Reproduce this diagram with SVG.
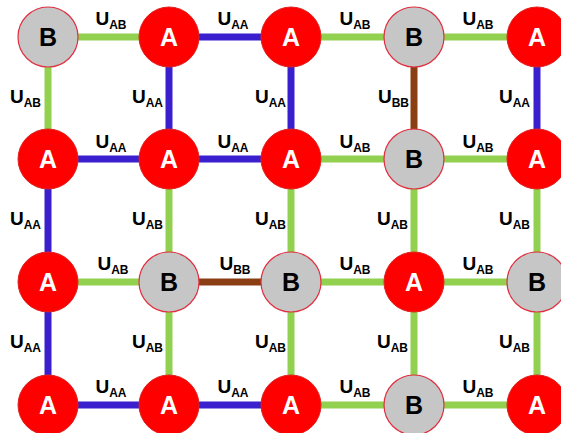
<svg xmlns="http://www.w3.org/2000/svg" width="561" height="433" viewBox="0 0 561 433">
<style>
.g{stroke:#92D050;stroke-width:7}
.b{stroke:#3A1FCF;stroke-width:7}
.r{stroke:#8B3E14;stroke-width:7}
.na circle{fill:#FF0000;stroke:#E02020;stroke-width:1}
.nb circle{fill:#C6C6C6;stroke:#E03040;stroke-width:1.2}
.na text{fill:#FFFFFF}
.nb text{fill:#000000}
.nl{font-family:"Liberation Sans",Arial,sans-serif;font-weight:bold;font-size:25px;text-anchor:middle}
.lbl{font-family:"Liberation Sans",Arial,sans-serif;font-weight:bold;font-size:19px;fill:#000}
.sub{font-size:12px}
.h{text-anchor:middle}
.v{text-anchor:end}
</style>
<rect width="561" height="433" fill="#FFFFFF"/>
<g id="connectors">
<line class="g" x1="48" y1="37" x2="169" y2="37"/>
<line class="b" x1="169" y1="37" x2="291" y2="37"/>
<line class="g" x1="291" y1="37" x2="414" y2="37"/>
<line class="g" x1="414" y1="37" x2="537" y2="37"/>
<line class="g" x1="48" y1="37" x2="48" y2="159"/>
<line class="b" x1="169" y1="37" x2="169" y2="159"/>
<line class="b" x1="291" y1="37" x2="291" y2="159"/>
<line class="r" x1="414" y1="37" x2="414" y2="159"/>
<line class="b" x1="537" y1="37" x2="537" y2="159"/>
<line class="b" x1="48" y1="159" x2="169" y2="159"/>
<line class="b" x1="169" y1="159" x2="291" y2="159"/>
<line class="g" x1="291" y1="159" x2="414" y2="159"/>
<line class="g" x1="414" y1="159" x2="537" y2="159"/>
<line class="b" x1="48" y1="159" x2="48" y2="282"/>
<line class="g" x1="169" y1="159" x2="169" y2="282"/>
<line class="g" x1="291" y1="159" x2="291" y2="282"/>
<line class="g" x1="414" y1="159" x2="414" y2="282"/>
<line class="g" x1="537" y1="159" x2="537" y2="282"/>
<line class="g" x1="48" y1="282" x2="169" y2="282"/>
<line class="r" x1="169" y1="282" x2="291" y2="282"/>
<line class="g" x1="291" y1="282" x2="414" y2="282"/>
<line class="g" x1="414" y1="282" x2="537" y2="282"/>
<line class="b" x1="48" y1="282" x2="48" y2="405"/>
<line class="g" x1="169" y1="282" x2="169" y2="405"/>
<line class="g" x1="291" y1="282" x2="291" y2="405"/>
<line class="g" x1="414" y1="282" x2="414" y2="405"/>
<line class="g" x1="537" y1="282" x2="537" y2="405"/>
<line class="b" x1="48" y1="405" x2="169" y2="405"/>
<line class="b" x1="169" y1="405" x2="291" y2="405"/>
<line class="g" x1="291" y1="405" x2="414" y2="405"/>
<line class="g" x1="414" y1="405" x2="537" y2="405"/>
</g>
<g id="labels">
<text class="lbl h" x="111" y="25">U<tspan class="sub" dy="4">AB</tspan></text>
<text class="lbl h" x="233" y="25">U<tspan class="sub" dy="4">AA</tspan></text>
<text class="lbl h" x="355" y="25">U<tspan class="sub" dy="4">AB</tspan></text>
<text class="lbl h" x="478" y="25">U<tspan class="sub" dy="4">AB</tspan></text>
<text class="lbl v" x="41" y="103">U<tspan class="sub" dy="4">AB</tspan></text>
<text class="lbl v" x="163" y="103">U<tspan class="sub" dy="4">AA</tspan></text>
<text class="lbl v" x="286" y="103">U<tspan class="sub" dy="4">AA</tspan></text>
<text class="lbl v" x="409" y="103">U<tspan class="sub" dy="4">BB</tspan></text>
<text class="lbl v" x="530" y="103">U<tspan class="sub" dy="4">AA</tspan></text>
<text class="lbl h" x="111" y="148">U<tspan class="sub" dy="4">AA</tspan></text>
<text class="lbl h" x="233" y="148">U<tspan class="sub" dy="4">AA</tspan></text>
<text class="lbl h" x="355" y="148">U<tspan class="sub" dy="4">AB</tspan></text>
<text class="lbl h" x="478" y="148">U<tspan class="sub" dy="4">AB</tspan></text>
<text class="lbl v" x="41" y="225">U<tspan class="sub" dy="4">AA</tspan></text>
<text class="lbl v" x="163" y="225">U<tspan class="sub" dy="4">AB</tspan></text>
<text class="lbl v" x="286" y="225">U<tspan class="sub" dy="4">AB</tspan></text>
<text class="lbl v" x="408" y="225">U<tspan class="sub" dy="4">AB</tspan></text>
<text class="lbl v" x="530" y="225">U<tspan class="sub" dy="4">AB</tspan></text>
<text class="lbl h" x="113" y="270">U<tspan class="sub" dy="4">AB</tspan></text>
<text class="lbl h" x="235" y="270">U<tspan class="sub" dy="4">BB</tspan></text>
<text class="lbl h" x="355" y="270">U<tspan class="sub" dy="4">AB</tspan></text>
<text class="lbl h" x="478" y="270">U<tspan class="sub" dy="4">AB</tspan></text>
<text class="lbl v" x="41" y="348">U<tspan class="sub" dy="4">AA</tspan></text>
<text class="lbl v" x="163" y="348">U<tspan class="sub" dy="4">AB</tspan></text>
<text class="lbl v" x="286" y="348">U<tspan class="sub" dy="4">AB</tspan></text>
<text class="lbl v" x="408" y="348">U<tspan class="sub" dy="4">AB</tspan></text>
<text class="lbl v" x="530" y="348">U<tspan class="sub" dy="4">AB</tspan></text>
<text class="lbl h" x="111" y="393">U<tspan class="sub" dy="4">AA</tspan></text>
<text class="lbl h" x="233" y="393">U<tspan class="sub" dy="4">AA</tspan></text>
<text class="lbl h" x="355" y="393">U<tspan class="sub" dy="4">AB</tspan></text>
<text class="lbl h" x="478" y="393">U<tspan class="sub" dy="4">AB</tspan></text>
</g>
<g id="n11" class="nb"><circle cx="48" cy="37" r="30"/><text class="nl" x="48" y="46">B</text></g>
<g id="n12" class="na"><circle cx="169" cy="37" r="30"/><text class="nl" x="169" y="46">A</text></g>
<g id="n13" class="na"><circle cx="291" cy="37" r="30"/><text class="nl" x="291" y="46">A</text></g>
<g id="n14" class="nb"><circle cx="414" cy="37" r="30"/><text class="nl" x="414" y="46">B</text></g>
<g id="n15" class="na"><circle cx="537" cy="37" r="30"/><text class="nl" x="537" y="46">A</text></g>
<g id="n21" class="na"><circle cx="48" cy="159" r="30"/><text class="nl" x="48" y="168">A</text></g>
<g id="n22" class="na"><circle cx="169" cy="159" r="30"/><text class="nl" x="169" y="168">A</text></g>
<g id="n23" class="na"><circle cx="291" cy="159" r="30"/><text class="nl" x="291" y="168">A</text></g>
<g id="n24" class="nb"><circle cx="414" cy="159" r="30"/><text class="nl" x="414" y="168">B</text></g>
<g id="n25" class="na"><circle cx="537" cy="159" r="30"/><text class="nl" x="537" y="168">A</text></g>
<g id="n31" class="na"><circle cx="48" cy="282" r="30"/><text class="nl" x="48" y="291">A</text></g>
<g id="n32" class="nb"><circle cx="169" cy="282" r="30"/><text class="nl" x="169" y="291">B</text></g>
<g id="n33" class="nb"><circle cx="291" cy="282" r="30"/><text class="nl" x="291" y="291">B</text></g>
<g id="n34" class="na"><circle cx="414" cy="282" r="30"/><text class="nl" x="414" y="291">A</text></g>
<g id="n35" class="nb"><circle cx="537" cy="282" r="30"/><text class="nl" x="537" y="291">B</text></g>
<g id="n41" class="na"><circle cx="48" cy="405" r="30"/><text class="nl" x="48" y="414">A</text></g>
<g id="n42" class="na"><circle cx="169" cy="405" r="30"/><text class="nl" x="169" y="414">A</text></g>
<g id="n43" class="na"><circle cx="291" cy="405" r="30"/><text class="nl" x="291" y="414">A</text></g>
<g id="n44" class="nb"><circle cx="414" cy="405" r="30"/><text class="nl" x="414" y="414">B</text></g>
<g id="n45" class="na"><circle cx="537" cy="405" r="30"/><text class="nl" x="537" y="414">A</text></g>
</svg>
